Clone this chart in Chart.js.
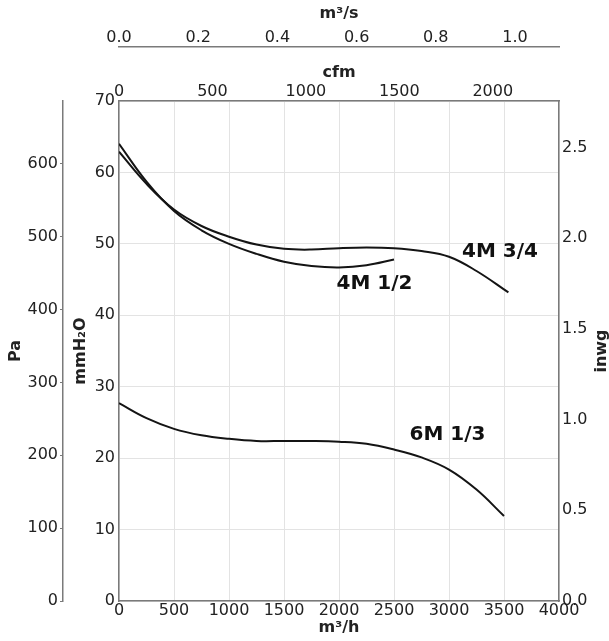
<!DOCTYPE html>
<html>
<head>
<meta charset="utf-8">
<script src="https://cdn.jsdelivr.net/npm/chart.js@4.4.0/dist/chart.umd.min.js"></script>
<style>
    html, body { margin: 0; padding: 0; background: #fff; }
</style>
</head>
<body>
<canvas id="fanChart" width="609" height="641"></canvas>
<script>
// fan curves, flow in m3/h, pressure in mmH2O
const flow4M12 = [0, 250, 500, 750, 1000, 1250, 1500, 1750, 2000, 2250, 2500];
const press4M12 = [64.0, 58.7, 54.6, 51.9, 50.0, 48.6, 47.5, 46.9, 46.7, 47.0, 47.8];

const flow4M34 = [0, 250, 500, 750, 1000, 1250, 1500, 1750, 2000, 2250, 2500, 2750, 3000, 3250, 3540];
const press4M34 = [62.9, 58.4, 54.8, 52.5, 51.0, 49.9, 49.3, 49.2, 49.4, 49.5, 49.4, 49.0, 48.2, 46.2, 43.2];

const flow6M13 = [0, 250, 500, 750, 1000, 1250, 1500, 1750, 2000, 2250, 2500, 2750, 3000, 3250, 3500];
const press6M13 = [27.7, 25.6, 24.1, 23.2, 22.7, 22.4, 22.4, 22.4, 22.3, 22.0, 21.2, 20.1, 18.4, 15.6, 11.9];

// curve names and where they sit (data units)
const curveNames = ['4M 3/4', '4M 1/2', '6M 1/3'];
const nameFlow = [3464, 2323, 2986];
const namePress = [48.9, 44.4, 23.2];

// tick labels of every axis
const m3hTicks = [0, 500, 1000, 1500, 2000, 2500, 3000, 3500, 4000];
const cfmTicks = [0, 500, 1000, 1500, 2000];
const m3sTicks = [0, 0.2, 0.4, 0.6, 0.8, 1.0];
const mmTicks = [0, 10, 20, 30, 40, 50, 60, 70];
const paTicks = [0, 100, 200, 300, 400, 500, 600];
const inwgTicks = [0, 0.5, 1.0, 1.5, 2.0, 2.5];

const FLOW_MAX = 4000;
const PRESS_MAX = 70;
const M3H_PER_CFM = 1.69901;
const PA_PER_MM = 9.80665;
const MM_PER_INWG = 25.4;

const FONT = 'DejaVu Sans';
const TEXT = '#222';
const FRAME = '#7a7a7a';
const GRID = '#e3e3e3';

function points(xs, ys) {
    return xs.map((x, i) => ({x: x, y: ys[i]}));
}

function fixedTicks(list) {
    return (scale) => {
        scale.ticks = list.map(v => ({value: v}));
    };
}

function curve(xs, ys) {
    return {
        data: points(xs, ys),
        borderColor: '#141414',
        borderWidth: 2,
        pointRadius: 0,
        fill: false,
        tension: 0.4,
        xAxisID: 'x',
        yAxisID: 'y'
    };
}

const plain = (v) => String(v);
const oneDecimal = (v) => v.toFixed(1);

const tickFont = {family: FONT, size: 16};
const titleFont = {family: FONT, size: 16, weight: 'bold'};

const curveLabels = {
    id: 'curveLabels',
    afterDatasetsDraw(chart) {
        const ctx = chart.ctx;
        const x = chart.scales.x;
        const y = chart.scales.y;
        ctx.save();
        ctx.font = 'bold 20px "' + FONT + '"';
        ctx.fillStyle = '#111';
        ctx.textAlign = 'center';
        ctx.textBaseline = 'middle';
        curveNames.forEach((name, i) => {
            ctx.fillText(name, x.getPixelForValue(nameFlow[i]), y.getPixelForValue(namePress[i]));
        });
        ctx.restore();
    },
    afterDraw(chart) {
        // right axis title reads bottom to top
        const ctx = chart.ctx;
        const area = chart.chartArea;
        ctx.save();
        ctx.translate(602, (area.top + area.bottom) / 2);
        ctx.rotate(-Math.PI / 2);
        ctx.font = 'bold 16px "' + FONT + '"';
        ctx.fillStyle = TEXT;
        ctx.textAlign = 'center';
        ctx.textBaseline = 'middle';
        ctx.fillText('inwg', 0, 0);
        ctx.restore();
    }
};

new Chart(document.getElementById('fanChart'), {
    type: 'line',
    data: {
        datasets: [
            curve(flow4M12, press4M12),
            curve(flow4M34, press4M34),
            curve(flow6M13, press6M13)
        ]
    },
    options: {
        responsive: false,
        animation: false,
        layout: {padding: 0},
        plugins: {
            legend: {display: false},
            tooltip: {enabled: false}
        },
        scales: {
            x: {
                type: 'linear',
                position: 'bottom',
                min: 0,
                max: FLOW_MAX,
                afterBuildTicks: fixedTicks(m3hTicks),
                afterFit: (scale) => { scale.height = 40; },
                grid: {color: GRID, lineWidth: 1, drawTicks: false},
                border: {color: FRAME, width: 1.5},
                ticks: {font: tickFont, color: TEXT, padding: 0, autoSkip: false, maxRotation: 0, callback: plain},
                title: {display: true, text: 'm³/h', font: titleFont, color: TEXT, padding: {top: 0, bottom: 4}}
            },
            cfm: {
                type: 'linear',
                position: 'top',
                weight: 0,
                min: 0,
                max: FLOW_MAX / M3H_PER_CFM,
                afterBuildTicks: fixedTicks(cfmTicks),
                afterFit: (scale) => { scale.height = 54; },
                grid: {drawOnChartArea: false, drawTicks: false},
                border: {color: FRAME, width: 1.5},
                ticks: {font: tickFont, color: TEXT, padding: 0, autoSkip: false, maxRotation: 0, callback: plain},
                title: {display: true, text: 'cfm', font: titleFont, color: TEXT, padding: {top: 16, bottom: 0}}
            },
            m3s: {
                type: 'linear',
                position: 'top',
                weight: 1,
                min: 0,
                max: FLOW_MAX / 3600,
                afterBuildTicks: fixedTicks(m3sTicks),
                afterFit: (scale) => { scale.height = 47; },
                grid: {drawOnChartArea: false, drawTicks: false},
                border: {color: FRAME, width: 1.5},
                ticks: {font: tickFont, color: TEXT, padding: 0, autoSkip: false, maxRotation: 0, callback: oneDecimal},
                title: {display: true, text: 'm³/s', font: titleFont, color: TEXT, padding: {top: 4, bottom: 0}}
            },
            y: {
                type: 'linear',
                position: 'left',
                weight: 0,
                min: 0,
                max: PRESS_MAX,
                afterBuildTicks: fixedTicks(mmTicks),
                afterFit: (scale) => { scale.width = 56; },
                grid: {color: GRID, lineWidth: 1, drawTicks: false},
                border: {color: FRAME, width: 1.5},
                ticks: {font: tickFont, color: TEXT, padding: 4, autoSkip: false, callback: plain},
                title: {display: true, text: 'mmH₂O', font: titleFont, color: TEXT, padding: {top: 8, bottom: 0}}
            },
            pa: {
                type: 'linear',
                position: 'left',
                weight: 1,
                min: 0,
                max: PRESS_MAX * PA_PER_MM,
                afterBuildTicks: fixedTicks(paTicks),
                afterFit: (scale) => { scale.width = 63; },
                grid: {drawOnChartArea: false, drawTicks: true, tickLength: 3, color: FRAME},
                border: {color: FRAME, width: 1.5},
                ticks: {font: tickFont, color: TEXT, padding: 2, autoSkip: false, callback: plain},
                title: {display: true, text: 'Pa', font: titleFont, color: TEXT, padding: {top: 6, bottom: 0}}
            },
            inwg: {
                type: 'linear',
                position: 'right',
                min: 0,
                max: PRESS_MAX / MM_PER_INWG,
                afterBuildTicks: fixedTicks(inwgTicks),
                afterFit: (scale) => { scale.width = 50; },
                grid: {drawOnChartArea: false, drawTicks: false},
                border: {color: FRAME, width: 1.5},
                ticks: {font: tickFont, color: TEXT, padding: 3, autoSkip: false, callback: oneDecimal}
            }
        }
    },
    plugins: [curveLabels]
});
</script>
</body>
</html>
